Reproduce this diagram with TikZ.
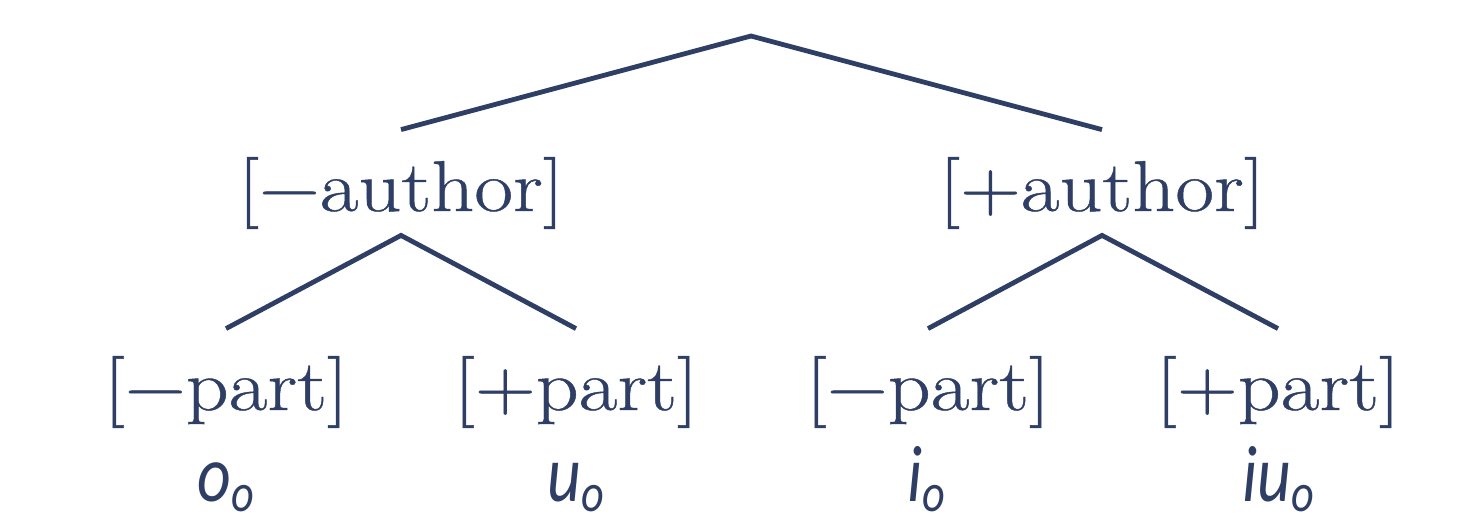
\documentclass[tikz,border=0pt]{standalone}
\usepackage{fontspec}
\newfontfamily\labfont{Latin Modern Roman}[FakeStretch=1.17,FakeBold=0.6]
\newfontfamily\subfont{Carlito}[FakeStretch=0.82]
\definecolor{navy}{RGB}{46,62,100}
\newcommand{\itlab}[1]{{\subfont\itshape\fontsize{40}{42}\selectfont #1\raisebox{-5pt}{\fontsize{27}{28}\selectfont o}}}
\begin{document}
\begin{tikzpicture}[x=0.5pt,y=-0.5pt,
  feat/.style={font=\labfont\fontsize{36}{40}\selectfont, text=navy, text height=40.5pt, text depth=12pt, inner sep=0pt, anchor=base},
  vlab/.style={text=navy, inner sep=0pt, anchor=base},
  branch/.style={draw=navy, line width=2.4pt}]
\path[use as bounding box] (0,0) rectangle (1466,515);
\coordinate (root) at (751,36);
\node[feat] (am) at (401,211) {[−author]};
\node[feat] (ap) at (1102,211) {[+author]};
\node[feat] (p1) at (226,410) {[−part]};
\node[feat] (p2) at (576,410) {[+part]};
\node[feat] (p3) at (928,410) {[−part]};
\node[feat] (p4) at (1278,410) {[+part]};
\node[vlab] (v1) at (226,501) {\itlab{o}};
\node[vlab] (v2) at (576,501) {\itlab{u}};
\node[vlab] (v3) at (926,501) {\itlab{i}};
\node[vlab] (v4) at (1278,501) {\itlab{iu}};
\draw[branch] (am.north) -- (root) -- (ap.north);
\draw[branch] (p1.north) -- (am.south) -- (p2.north);
\draw[branch] (p3.north) -- (ap.south) -- (p4.north);
\end{tikzpicture}
\end{document}
